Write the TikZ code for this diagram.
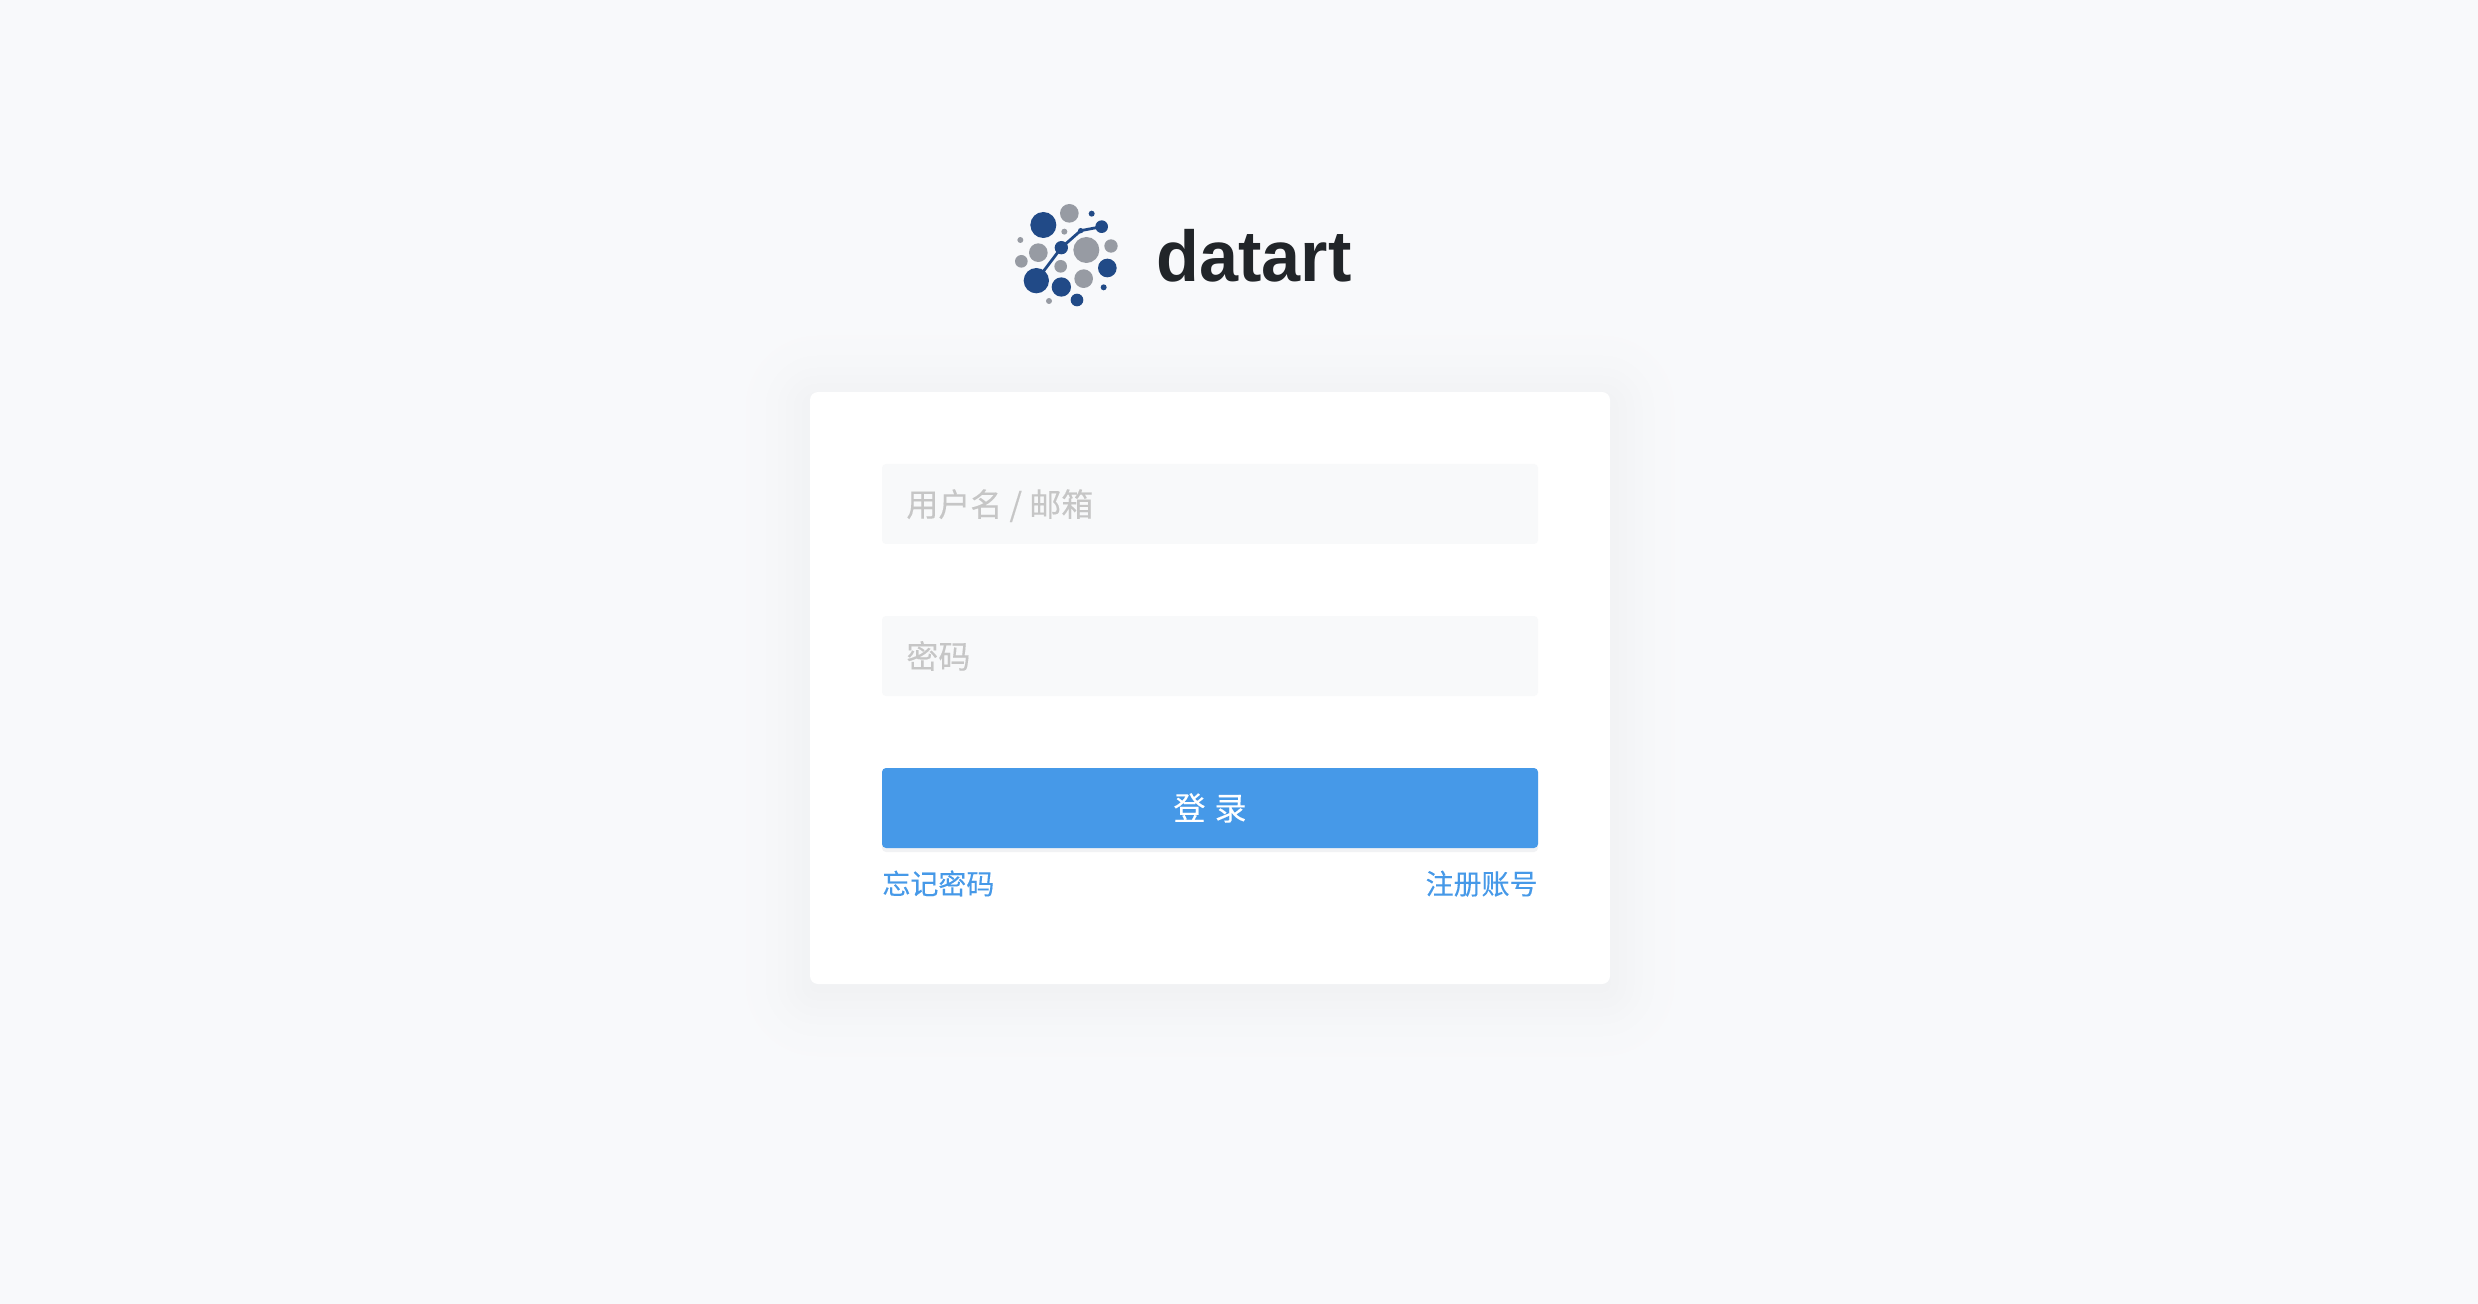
\documentclass[tikz,border=0pt]{standalone}
\usepackage{fontspec}
\setmainfont{Liberation Sans}
\newfontfamily\cjk{Noto Sans CJK SC}[FakeBold=0.2]
\usetikzlibrary{calc}
\definecolor{pagebg}{HTML}{F8F9FB}
\definecolor{shadowedge}{HTML}{F1F2F4}
\definecolor{fieldbg}{HTML}{F8F9FA}
\definecolor{hint}{HTML}{C6C6C6}
\definecolor{brandblue}{HTML}{4699E8}
\definecolor{navy}{HTML}{214A87}
\definecolor{dotgray}{HTML}{979BA3}
\definecolor{wordmark}{HTML}{212529}
\tikzset{
  x=0.5pt,y=-0.5pt,
  logodot/.style={circle,inner sep=0pt,outer sep=0pt,draw=none},
  hinttext/.style={anchor=mid west,inner sep=0pt,text=hint,font=\cjk\fontsize{16pt}{16pt}\selectfont},
  linktext/.style={inner sep=0pt,text=brandblue,font=\cjk\fontsize{14pt}{14pt}\selectfont},
  fieldbox/.style={fill=fieldbg,rounded corners=2pt},
}
\newcommand{\logocircle}[5]{\node[logodot,fill=#2,minimum size=#5/3*1pt] (#1) at ({990+#3/3},{180+#4/3}) {};}
\begin{document}
\begin{tikzpicture}
\useasboundingbox (0,0) rectangle (2478,1304);
\fill[pagebg] (0,0) rectangle (2478,1304);
% soft card shadow
\foreach \s in {88,84,...,0}{
  \pgfmathsetmacro{\p}{100*(1-\s/88)*(1-\s/88)}
  \fill[shadowedge!\p!pagebg,rounded corners={(4+\s*0.5)*1pt}]
    ({810-\s},{392-\s+8}) rectangle ({1610+\s},{984+\s+8});
}
\node[fill=white,rounded corners=4pt,inner sep=0pt,minimum width=400pt,minimum height=296pt] (card) at (1210,688) {};
% logo
\logocircle{a1}{navy}{160}{135}{39}
\logocircle{a2}{dotgray}{238}{100}{28}
\logocircle{a3}{navy}{305}{101}{9}
\logocircle{a4}{navy}{335}{140}{19}
\logocircle{a5}{dotgray}{223}{155}{9}
\logocircle{a6}{navy}{272}{152}{8}
\logocircle{a7}{dotgray}{91}{180}{9}
\logocircle{a8}{dotgray}{145}{218}{28}
\logocircle{a9}{navy}{214}{203}{20}
\logocircle{a10}{dotgray}{289}{210}{39}
\logocircle{a11}{dotgray}{363}{198}{20}
\logocircle{a12}{dotgray}{94}{244}{19}
\logocircle{a13}{dotgray}{212}{259}{19}
\logocircle{a14}{navy}{352}{264}{28}
\logocircle{a15}{navy}{139}{302}{38}
\logocircle{a16}{navy}{214}{321}{29}
\logocircle{a17}{dotgray}{281}{296}{28}
\logocircle{a18}{navy}{341}{322}{9}
\logocircle{a19}{dotgray}{177}{363}{9}
\logocircle{a20}{navy}{261}{360}{19}
\draw[navy,line width=1.4pt,line join=round] (a15.center) -- (a9.center) -- (a6.center) -- (a4.center);
\node[anchor=base west,inner sep=0pt,text=wordmark,font=\bfseries\fontsize{36pt}{36pt}\selectfont,xscale=0.975] (brand) at (1156,282) {datart};
% form
\node[fieldbox,minimum width=328pt,minimum height=40pt,inner sep=0pt] (user) at (1210,504) {};
\node[fieldbox,minimum width=328pt,minimum height=40pt,inner sep=0pt] (pass) at (1210,656) {};
\node[hinttext] (userhint) at (906,511) {用户名 / 邮箱};
\node[hinttext] (passhint) at (906,663) {密码};
\node[fill=shadowedge,rounded corners=2pt,minimum width=328pt,minimum height=40pt,inner sep=0pt] (btnshadow) at (1210,812) {};
\node[fill=brandblue,rounded corners=2pt,minimum width=328pt,minimum height=40pt,inner sep=0pt] (btn) at (1210,808) {};
\node[inner sep=0pt,text=white,font=\cjk\fontsize{16pt}{16pt}\selectfont] (btntext) at (btn.center) {登\hspace{4.5pt}录};
\node[linktext,anchor=mid west] (forgot) at (882,889) {忘记密码};
\node[linktext,anchor=mid east] (register) at (1538,889) {注册账号};
\end{tikzpicture}
\end{document}
